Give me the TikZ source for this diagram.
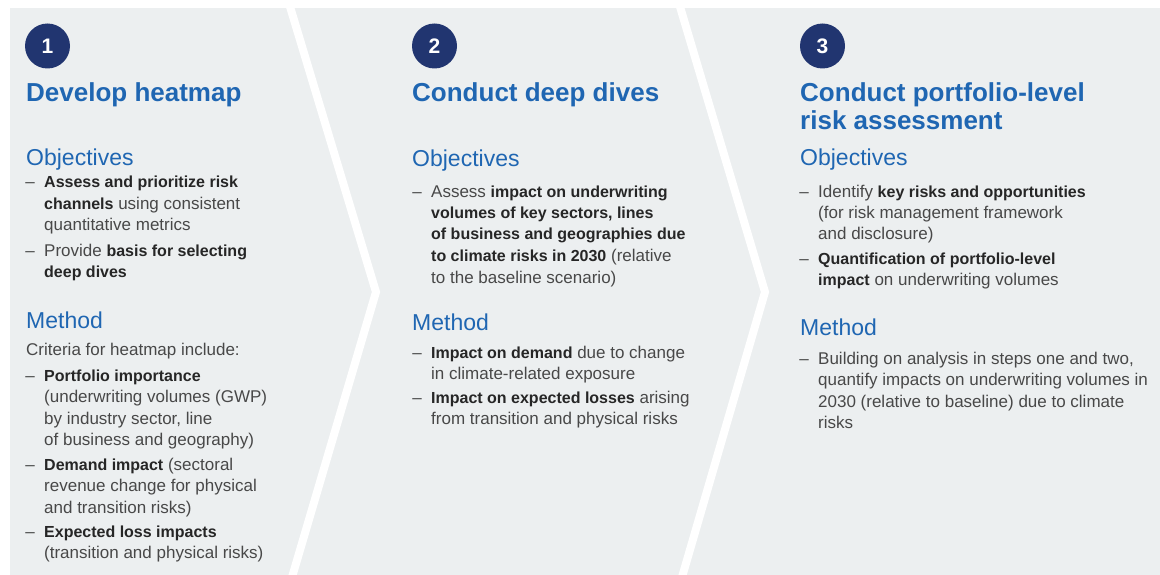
\documentclass[tikz,border=0pt]{standalone}
\usepackage{fontspec}
\setmainfont{Liberation Sans}
\usetikzlibrary{positioning}

\definecolor{panelgray}{RGB}{236,239,240}
\definecolor{navy}{RGB}{33,53,112}
\definecolor{headblue}{RGB}{31,102,178}
\definecolor{bodygray}{RGB}{72,72,72}
\definecolor{boldgray}{RGB}{38,38,38}

\newcommand{\hb}[1]{{\fontsize{16}{21.5}\selectfont\bfseries\color{boldgray}#1}}
\newcommand{\itemlines}[1]{\begin{tabular}[t]{@{}l@{}}#1\end{tabular}}

\tikzset{
  stepnum/.style={circle, fill=navy, text=white, minimum size=45pt, inner sep=0pt,
    font=\fontsize{21}{21}\selectfont\bfseries},
  steptitle/.style={anchor=base west, inner sep=0pt, text=headblue,
    font=\fontsize{26}{28}\selectfont\bfseries},
  subhead/.style={anchor=base west, inner sep=0pt, text=headblue,
    font=\fontsize{23}{23}\selectfont},
  body/.style={anchor=base west, inner sep=0pt, text=bodygray,
    font=\fontsize{17}{21.5}\selectfont},
  dashmark/.style={body, node distance=9pt},
  divider/.style={white, line width=8pt, line join=miter}
}

\begin{document}
\begin{tikzpicture}[x=1pt, y=-1pt]
  \useasboundingbox (0,0) rectangle (1160,575);
  \fill[panelgray] (10,8) rectangle (1160,575);
  \draw[divider] (288,0) -- (376,292) -- (290,584);
  \draw[divider] (678,0) -- (765,292) -- (680,584);

  % step 1
  \node[stepnum] (c1) at (47.5,46) {1};
  \node[steptitle] (h1) at (26,102) {Develop heatmap};
  \node[subhead] (obj1) at (26,166) {Objectives};
  \node[body] (o11) at (44,188) {\itemlines{\hb{Assess and prioritize risk}\\\hb{channels} using consistent\\quantitative metrics}};
  \node[body] (o12) at (44,256) {\itemlines{Provide \hb{basis for selecting}\\\hb{deep dives}}};
  \node[subhead] (met1) at (26,328) {Method};
  \node[body] (m10) at (26,355) {Criteria for heatmap include:};
  \node[body] (m11) at (44,381) {\itemlines{\hb{Portfolio importance}\\(underwriting volumes (GWP)\\by industry sector, line\\of business and geography)}};
  \node[body] (m12) at (44,470) {\itemlines{\hb{Demand impact} (sectoral\\revenue change for physical\\and transition risks)}};
  \node[body] (m13) at (44,537) {\itemlines{\hb{Expected loss impacts}\\(transition and physical risks)}};

  % step 2
  \node[stepnum] (c2) at (434.5,46) {2};
  \node[steptitle] (h2) at (412,102) {Conduct deep dives};
  \node[subhead] (obj2) at (412,167) {Objectives};
  \node[body] (o21) at (431,197) {\itemlines{Assess \hb{impact on underwriting}\\\hb{volumes of key sectors, lines}\\\hb{of business and geographies due}\\\hb{to climate risks in 2030} (relative\\to the baseline scenario)}};
  \node[subhead] (met2) at (412,330) {Method};
  \node[body] (m21) at (431,358) {\itemlines{\hb{Impact on demand} due to change\\in climate-related exposure}};
  \node[body] (m22) at (431,403) {\itemlines{\hb{Impact on expected losses} arising\\from transition and physical risks}};

  % step 3
  \node[stepnum] (c3) at (822.5,46) {3};
  \node[steptitle] (h3) at (800,102) {\itemlines{Conduct portfolio-level\\risk assessment}};
  \node[subhead] (obj3) at (800,166) {Objectives};
  \node[body] (o31) at (818,197) {\itemlines{Identify \hb{key risks and opportunities}\\(for risk management framework\\and disclosure)}};
  \node[body] (o32) at (818,264) {\itemlines{\hb{Quantification of portfolio-level}\\\hb{impact} on underwriting volumes}};
  \node[subhead] (met3) at (800,335) {Method};
  \node[body] (m31) at (818,364) {\itemlines{Building on analysis in steps one and two,\\quantify impacts on underwriting volumes in\\2030 (relative to baseline) due to climate\\risks}};

  % dashes
  \foreach \n in {o11,o12,m11,m12,m13,o21,m21,m22,o31,o32,m31}
    \node[dashmark, base left=of \n] (d\n) {--};
\end{tikzpicture}
\end{document}
